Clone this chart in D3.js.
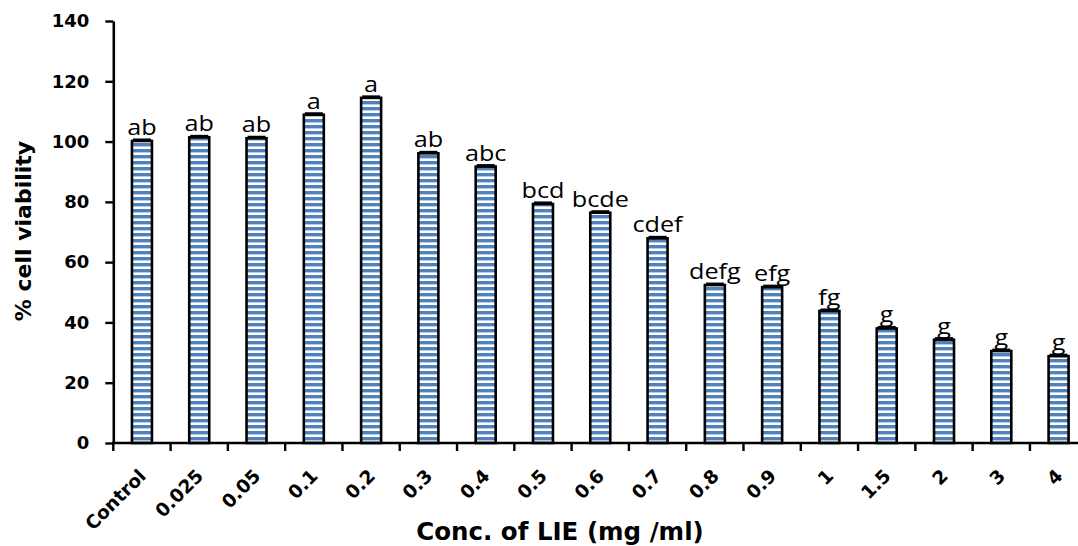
<!DOCTYPE html>
<html><head><meta charset="utf-8">
<script src="https://cdn.jsdelivr.net/npm/d3@7"></script>
<style>
body{margin:0;background:#fff;}
svg{display:block;}
</style></head>
<body>
<svg id="chart" width="1078" height="546"></svg>
<script>
const categories = ["Control","0.025","0.05","0.1","0.2","0.3","0.4","0.5","0.6","0.7","0.8","0.9","1","1.5","2","3","4"];
const viability = [100.2,101.4,101.1,108.9,114.5,96.1,91.7,79.3,76.4,67.9,52.4,51.7,43.8,38.0,34.3,30.5,28.8];
const errors = [0.4,0.4,0.4,0.4,0.4,0.4,0.4,0.4,0.4,0.4,0.4,0.4,0.4,0.4,0.4,0.4,0.4];
const letters = ["ab","ab","ab","a","a","ab","abc","bcd","bcde","cdef","defg","efg","fg","g","g","g","g"];
const yTicks = [0,20,40,60,80,100,120,140];

const svg = d3.select("#chart");
const mLeft = 113.3, mTop = 21, mBottom = 443;
const band = 57.29;
const x = d3.scaleBand().domain(categories).range([mLeft, mLeft + band*categories.length]).paddingInner(0).paddingOuter(0);
const y = d3.scaleLinear().domain([0,140]).range([mBottom, mTop]);
const boldFont = "'DejaVu Sans', Verdana, sans-serif";

const defs = svg.append("defs");
const pat = defs.append("pattern").attr("id","stripes").attr("patternUnits","userSpaceOnUse")
  .attr("x",0).attr("y",mBottom).attr("width",8).attr("height",6);
pat.append("rect").attr("width",8).attr("height",6).attr("fill","#ffffff");
pat.append("rect").attr("y",0).attr("width",8).attr("height",3.4).attr("fill","#4f81bd");

const bw = 20;
// bars
svg.append("g").selectAll("rect").data(categories).join("rect")
  .attr("x", d => x(d) + x.bandwidth()/2 - bw/2)
  .attr("y", (d,i) => y(viability[i]))
  .attr("width", bw)
  .attr("height", (d,i) => mBottom - y(viability[i]))
  .attr("fill","url(#stripes)")
  .attr("stroke","#000").attr("stroke-width",2.6);

// error caps
svg.append("g").selectAll("line").data(categories).join("line")
  .attr("x1", d => x(d) + x.bandwidth()/2 - bw/2 + 1)
  .attr("x2", d => x(d) + x.bandwidth()/2 + bw/2 - 1)
  .attr("y1", (d,i) => y(viability[i] + errors[i]) + 0.3)
  .attr("y2", (d,i) => y(viability[i] + errors[i]) + 0.3)
  .attr("stroke","#000").attr("stroke-width",3.2);

// letters
svg.append("g").selectAll("text").data(categories).join("text")
  .attr("transform", (d,i) => `translate(${x(d) + x.bandwidth()/2},${y(viability[i]) - 6}) scale(1.2,1)`)
  .attr("text-anchor","middle")
  .attr("font-family","'Open Sans', sans-serif")
  .attr("font-size",21)
  .attr("fill","#000")
  .text((d,i) => letters[i]);

// y axis
const yAxis = svg.append("g").attr("transform",`translate(${mLeft},0)`)
  .call(d3.axisLeft(y).tickValues(yTicks).tickSize(8).tickPadding(16).tickSizeOuter(0));
yAxis.select(".domain").attr("stroke","#000").attr("stroke-width",2.6);
yAxis.selectAll(".tick line").attr("stroke","#000").attr("stroke-width",2.4);
yAxis.selectAll(".tick text").attr("font-family",boldFont)
  .attr("font-weight","bold").attr("font-size",18).attr("fill","#000");

// x axis
const xAxisG = svg.append("g").attr("transform",`translate(0,${mBottom})`);
xAxisG.append("line").attr("x1",mLeft-1.3).attr("x2",1078).attr("y1",0).attr("y2",0)
  .attr("stroke","#000").attr("stroke-width",2.6);
const boundaries = categories.map(d => x(d)).concat([x.range()[1]]);
xAxisG.selectAll("line.tk").data(boundaries).join("line").attr("class","tk")
  .attr("x1", d => d).attr("x2", d => d).attr("y1",0).attr("y2",8)
  .attr("stroke","#000").attr("stroke-width",2.4);
xAxisG.selectAll("text").data(categories).join("text")
  .attr("transform", d => `translate(${x(d) + x.bandwidth()/2 - 4},${25}) rotate(-45)`)
  .attr("text-anchor","end")
  .attr("dy","0.7em")
  .attr("font-family",boldFont)
  .attr("font-weight","bold").attr("font-size",18.5).attr("fill","#000")
  .text(d => d);

// axis titles
svg.append("text").attr("x",560).attr("y",540).attr("text-anchor","middle")
  .attr("font-family",boldFont).attr("font-weight","bold")
  .attr("font-size",24.5).attr("fill","#000").text("Conc. of LIE (mg /ml)");
svg.append("text").attr("transform","translate(31,231) rotate(-90)").attr("text-anchor","middle")
  .attr("font-family",boldFont).attr("font-weight","bold")
  .attr("font-size",22).attr("fill","#000").text("% cell viability");
</script>
</body></html>
